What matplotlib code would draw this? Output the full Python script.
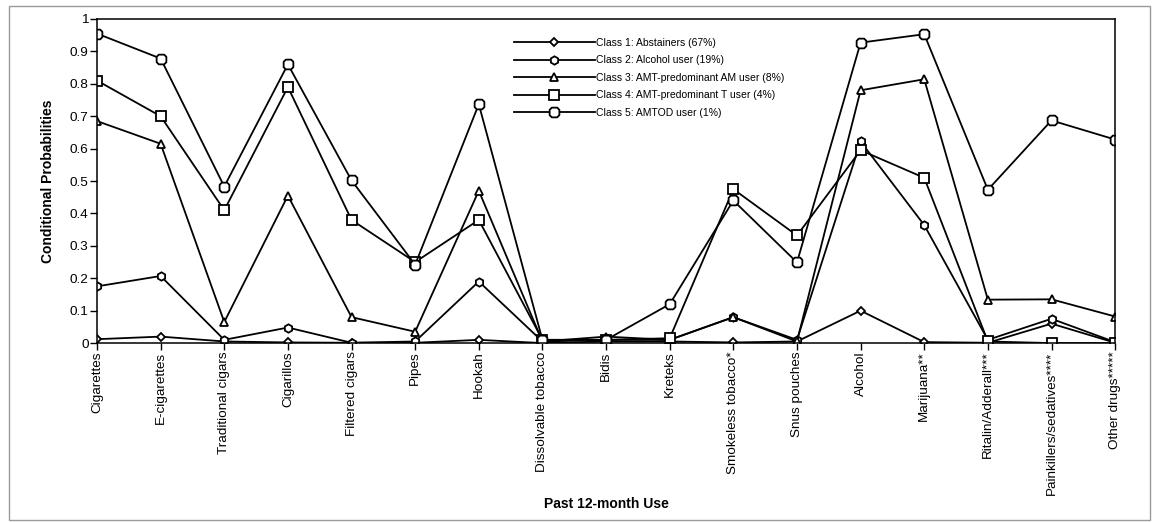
import matplotlib.pyplot as plt
from matplotlib.path import Path
from matplotlib.patches import Rectangle

plt.rcParams['font.family'] = ['Liberation Sans', 'DejaVu Sans']

categories = ['Cigarettes', 'E-cigarettes', 'Traditional cigars', 'Cigarillos',
              'Filtered cigars', 'Pipes', 'Hookah', 'Dissolvable tobacco', 'Bidis',
              'Kreteks', 'Smokeless tobacco*', 'Snus pouches', 'Alcohol', 'Marijuana**',
              'Ritalin/Adderall***', 'Painkillers/sedatives****', 'Other drugs*****']

class1 = [0.012, 0.020, 0.005, 0.002, 0.001, 0.001, 0.010, 0.000, 0.005,
          0.005, 0.002, 0.005, 0.100, 0.003, 0.001, 0.060, 0.001]
class2 = [0.175, 0.207, 0.010, 0.048, 0.001, 0.005, 0.190, 0.005, 0.010,
          0.010, 0.080, 0.010, 0.622, 0.364, 0.010, 0.075, 0.003]
class3 = [0.685, 0.615, 0.065, 0.455, 0.080, 0.035, 0.470, 0.005, 0.020,
          0.010, 0.080, 0.005, 0.780, 0.814, 0.134, 0.135, 0.082]
class4 = [0.810, 0.700, 0.410, 0.790, 0.380, 0.250, 0.380, 0.010, 0.010,
          0.015, 0.475, 0.332, 0.595, 0.510, 0.005, 0.000, 0.000]
class5 = [0.955, 0.878, 0.483, 0.860, 0.502, 0.242, 0.737, 0.010, 0.010,
          0.120, 0.440, 0.249, 0.927, 0.953, 0.473, 0.687, 0.628]

labels = ['Class 1: Abstainers (67%)', 'Class 2: Alcohol user (19%)',
          'Class 3: AMT-predominant AM user (8%)', 'Class 4: AMT-predominant T user (4%)',
          'Class 5: AMTOD user (1%)']

# rounded-ish square for class 5
c = 0.55
rsq = Path([(-1, -c), (-c, -1), (c, -1), (1, -c), (1, c), (c, 1), (-c, 1), (-1, c), (-1, -c)],
           [Path.MOVETO] + [Path.LINETO] * 7 + [Path.CLOSEPOLY])

markers = ['D', 'h', '^', 's', rsq]
sizes = [4.5, 6, 6, 6.5, 7]

fig = plt.figure(figsize=(11.52, 5.23), dpi=100)
fig.patches.append(Rectangle((0.008, 0.006), 0.99, 0.982, transform=fig.transFigure,
                             fill=False, edgecolor='#9a9a9a', linewidth=1))
ax = fig.add_axes([0.0842, 0.344, 0.8838, 0.6197])

x = list(range(len(categories)))
for series, m, s, lab in zip([class1, class2, class3, class4, class5], markers, sizes, labels):
    ax.plot(x, series, color='black', linewidth=1.3, marker=m, markersize=s,
            markerfacecolor='white', markeredgecolor='black', markeredgewidth=1.3,
            label=lab)

ax.set_xlim(0, 16)
ax.set_ylim(0, 1)
ax.set_yticks([i / 10 for i in range(11)])
ax.set_yticklabels(['0'] + ['0.%d' % i for i in range(1, 10)] + ['1'])
ax.set_xticks(x)
ax.set_xticklabels(categories, rotation=90)
ax.tick_params(direction='out', length=5, width=1, labelsize=9.7, pad=1, color='black')
for sp in ax.spines.values():
    sp.set_linewidth(1.1)

ax.set_ylabel('Conditional Probabilities', fontsize=10, fontweight='bold', labelpad=11)
ax.set_xlabel('Past 12-month Use', fontsize=10, fontweight='bold')
ax.xaxis.set_label_coords(0.5, -0.475)

ax.legend(loc='upper left', bbox_to_anchor=(0.405, 0.955), frameon=False, fontsize=7.5,
          handlelength=7.8, handletextpad=0.15, labelspacing=0.72, borderaxespad=0)

plt.savefig('out.png', dpi=100)
